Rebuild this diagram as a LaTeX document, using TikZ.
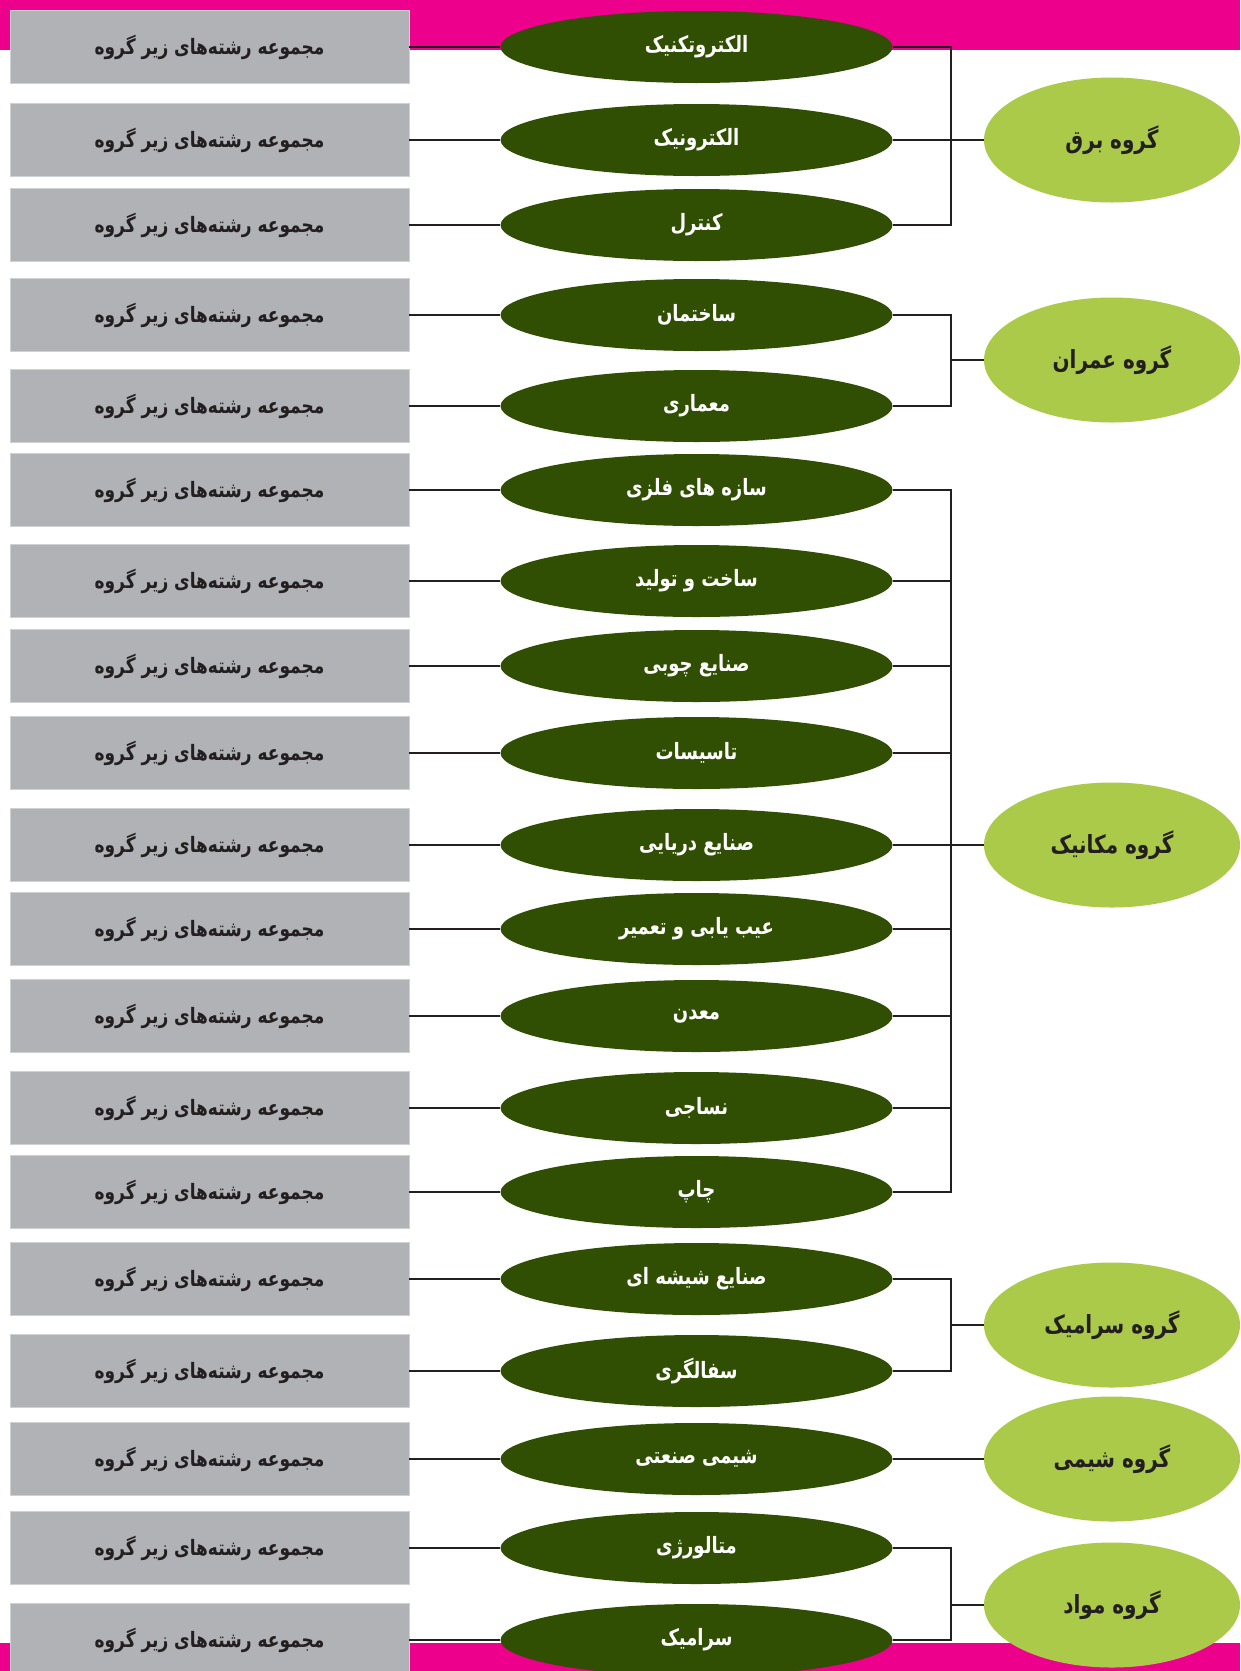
\documentclass[tikz,border=0pt]{standalone}
\usepackage{fontspec}
\usepackage{graphicx}
\TeXXeTstate=1
\newfontfamily\arabicfont[Script=Arabic]{DejaVu Sans}
\usetikzlibrary{shapes.geometric}
\definecolor{pinkband}{HTML}{EC008C}
\definecolor{boxgray}{HTML}{B1B2B6}
\definecolor{darkgreen}{HTML}{304F03}
\definecolor{lightgreen}{HTML}{ACCA49}
\definecolor{linecol}{HTML}{231F20}
\newcommand{\rtl}[1]{\scalebox{1}[1.25]{\beginR #1\endR}}
\begin{document}
\begin{tikzpicture}[x=1pt,y=-1pt,
  subbox/.style={rectangle, fill=boxgray, draw=boxgray!60!white, line width=0.8pt,
    minimum width=399pt, minimum height=73pt, inner sep=0pt,
    font=\arabicfont\bfseries\fontsize{17}{20}\selectfont, text=linecol},
  field/.style={ellipse, fill=darkgreen, minimum width=392pt, minimum height=72pt, inner sep=0pt,
    font=\arabicfont\bfseries\fontsize{18}{20}\selectfont, text=white},
  group/.style={ellipse, fill=lightgreen, minimum width=256pt, minimum height=125pt, inner sep=0pt,
    font=\arabicfont\bfseries\fontsize{20}{22}\selectfont, text=linecol},
  conn/.style={draw=linecol, line width=2.8pt},
  band/.style={fill=pinkband, draw=none}
]
\useasboundingbox (0,0) rectangle (1240,1671);
\fill[white] (0,0) rectangle (1240,1671);
% pink bands
\path[band] (0,0) rectangle (1240,50);
\path[band] (0,1643) rectangle (1240,1671);

% rows
\foreach \i/\y/\t in {
  1/47/الکتروتکنیک,
  2/140/الکترونیک,
  3/225/کنترل,
  4/315/ساختمان,
  5/406/معماری,
  6/490/سازه های فلزی,
  7/581/ساخت و تولید,
  8/666/صنایع چوبی,
  9/753/تاسیسات,
  10/845/صنایع دریایی,
  11/929/عیب یابی و تعمیر,
  12/1016/معدن,
  13/1108/نساجی,
  14/1192/چاپ,
  15/1279/صنایع شیشه ای,
  16/1371/سفالگری,
  17/1459/شیمی صنعتی,
  18/1548/متالورژی,
  19/1640/سرامیک}{
  \node[subbox] (s\i) at (209.5,\y) {\rtl{مجموعه رشته‌های زیر گروه}};
  \node[field] (f\i) at (696.5,\y) {\rtl{\t}};
  \draw[conn] (s\i.east) -- (f\i.west);
}

% groups
\node[group] (gBargh) at (1112,140) {\rtl{گروه برق}};
\node[group] (gOmran) at (1112,360) {\rtl{گروه عمران}};
\node[group] (gMech) at (1112,845) {\rtl{گروه مکانیک}};
\node[group] (gCeram) at (1112,1325) {\rtl{گروه سرامیک}};
\node[group] (gChem) at (1112,1459) {\rtl{گروه شیمی}};
\node[group] (gMat) at (1112,1605) {\rtl{گروه مواد}};

% bracket coordinates
\coordinate (bx) at (951,0);

% group bargh
\draw[conn] (f1.east) -- (f1.east -| bx) -- (f3.east -| bx) -- (f3.east);
\draw[conn] (f2.east) -- (gBargh.west);
% group omran
\draw[conn] (f4.east) -- (f4.east -| bx) -- (f5.east -| bx) -- (f5.east);
\draw[conn] (gOmran.west) -- (gOmran.west -| bx);
% group mechanic
\draw[conn] (f6.east) -- (f6.east -| bx) -- (f14.east -| bx) -- (f14.east);
\foreach \i in {7,8,9,11,12,13}{
  \draw[conn] (f\i.east) -- (f\i.east -| bx);
}
\draw[conn] (f10.east) -- (gMech.west);
% group ceramic
\draw[conn] (f15.east) -- (f15.east -| bx) -- (f16.east -| bx) -- (f16.east);
\draw[conn] (gCeram.west) -- (gCeram.west -| bx);
% group chem
\draw[conn] (f17.east) -- (gChem.west);
% group mavad
\draw[conn] (f18.east) -- (f18.east -| bx) -- (f19.east -| bx) -- (f19.east);
\draw[conn] (gMat.west) -- (gMat.west -| bx);
\end{tikzpicture}
\end{document}
